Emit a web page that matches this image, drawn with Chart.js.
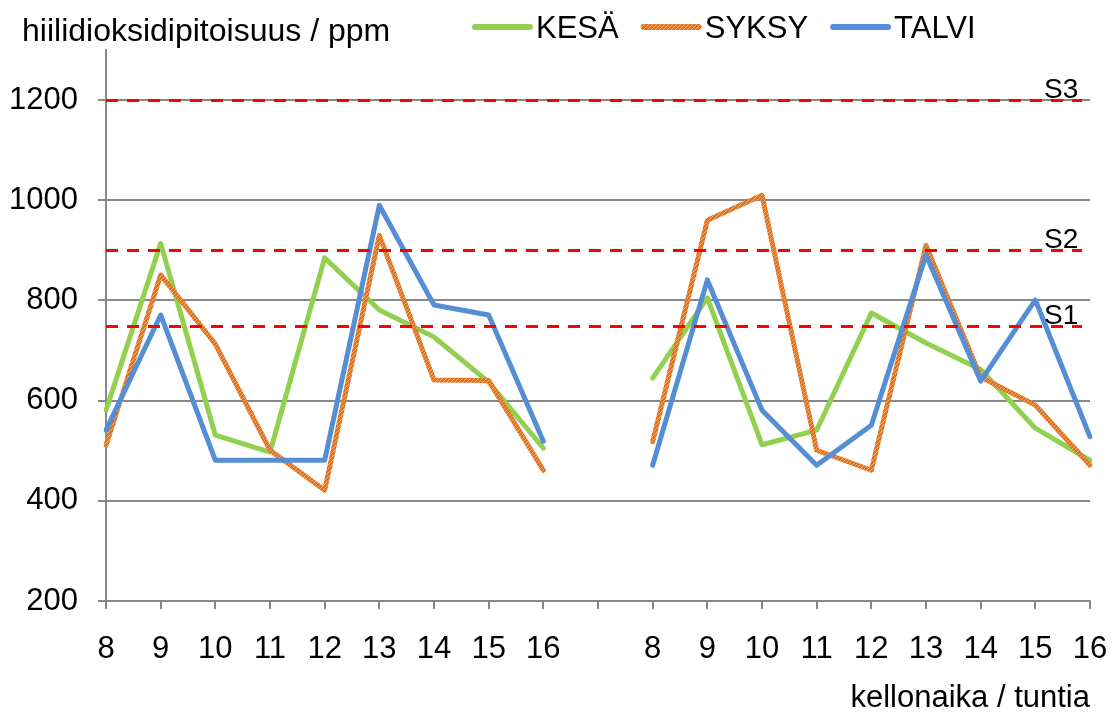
<!DOCTYPE html>
<html>
<head>
<meta charset="utf-8">
<script src="https://cdn.jsdelivr.net/npm/chart.js@4.4.1/dist/chart.umd.min.js"></script>
<style>
  html, body { margin: 0; padding: 0; background: #fff; }
</style>
</head>
<body>
<canvas id="myChart" width="1112" height="722"></canvas>
<script>
// hours of two measuring days, blank slot between them
var hours = ['8', '9', '10', '11', '12', '13', '14', '15', '16', '', '8', '9', '10', '11', '12', '13', '14', '15', '16'];

var kesa  = [581, 914, 531, 497, 885, 781, 727, 637, 505, null, 645, 805, 512, 541, 775, 715, 662, 545, 481];
var syksy = [511, 851, 713, 501, 421, 930, 641, 640, 461, null, 518, 960, 1010, 501, 461, 910, 647, 591, 471];
var talvi = [541, 771, 481, 481, 481, 990, 791, 771, 519, null, 471, 841, 581, 471, 551, 891, 639, 801, 528];

// limit values S1..S3
var limitNames  = ['S1', 'S2', 'S3'];
var limitValues = [750, 900, 1200];

var yTitle = 'hiilidioksidipitoisuus / ppm';
var xTitle = 'kellonaika / tuntia';

var FONT = "'Liberation Sans', Arial, sans-serif";

// speckled orange stroke like the original
function orangePattern() {
    var c = document.createElement('canvas');
    c.width = 4; c.height = 4;
    var g = c.getContext('2d');
    g.fillStyle = '#E5731C';
    g.fillRect(0, 0, 4, 4);
    g.fillStyle = '#F3A86A';
    g.fillRect(0, 0, 1, 1);
    g.fillRect(2, 2, 1, 1);
    g.fillRect(1, 3, 1, 1);
    g.fillRect(3, 1, 1, 1);
    return g.createPattern(c, 'repeat');
}

var overlay = {
    id: 'overlay',
    afterDatasetsDraw: function (chart) {
        var ctx = chart.ctx, area = chart.chartArea, y = chart.scales.y;
        ctx.save();
        ctx.strokeStyle = '#FF0000';
        ctx.lineWidth = 3;
        ctx.setLineDash([12, 9]);
        limitValues.forEach(function (v) {
            var py = Math.round(y.getPixelForValue(v)) + 0.5;
            ctx.beginPath();
            ctx.moveTo(area.left, py);
            ctx.lineTo(area.right - 8, py);
            ctx.stroke();
        });
        ctx.setLineDash([]);
        ctx.fillStyle = '#000';
        ctx.font = '28px ' + FONT;
        ctx.textAlign = 'left';
        ctx.textBaseline = 'alphabetic';
        limitValues.forEach(function (v, i) {
            ctx.fillText(limitNames[i], area.right - 46, y.getPixelForValue(v) - 2);
        });
        ctx.restore();
    },
    afterDraw: function (chart) {
        var ctx = chart.ctx;
        ctx.save();
        ctx.fillStyle = '#000';
        ctx.textBaseline = 'alphabetic';
        ctx.font = '32px ' + FONT;
        ctx.textAlign = 'left';
        ctx.fillText(yTitle, 22, 41);
        ctx.font = '31px ' + FONT;
        ctx.textAlign = 'right';
        ctx.fillText(xTitle, 1090, 707);

        // legend
        var x = 475;
        ctx.textAlign = 'left';
        ctx.textBaseline = 'alphabetic';
        chart.data.datasets.forEach(function (ds) {
            ctx.strokeStyle = ds.borderColor;
            ctx.lineWidth = 6;
            ctx.lineCap = 'round';
            ctx.beginPath();
            ctx.moveTo(x, 27);
            ctx.lineTo(x + 55, 27);
            ctx.stroke();
            ctx.fillText(ds.label, x + 61, 38);
            x += 61 + ctx.measureText(ds.label).width + 25;
        });
        ctx.restore();
    }
};

var ctx = document.getElementById('myChart').getContext('2d');
var chart = new Chart(ctx, {
    type: 'line',
    data: {
        labels: hours,
        datasets: [{
            label: 'KESÄ',
            data: kesa,
            borderColor: '#92D050',
            order: 3
        }, {
            label: 'SYKSY',
            data: syksy,
            borderColor: orangePattern(),
            order: 2
        }, {
            label: 'TALVI',
            data: talvi,
            borderColor: '#558ED5',
            order: 1
        }]
    },
    options: {
        responsive: false,
        animation: false,
        spanGaps: false,
        elements: {
            line: { borderWidth: 5, tension: 0, borderJoinStyle: 'round', borderCapStyle: 'round', fill: false },
            point: { radius: 0, hoverRadius: 0 }
        },
        layout: { padding: { top: 50, right: 22, left: 0, bottom: 0 } },
        plugins: {
            legend: { display: false },
            tooltip: { enabled: false }
        },
        scales: {
            x: {
                offset: false,
                grid: { drawOnChartArea: false, tickLength: 8, color: '#888', lineWidth: 2 },
                border: { color: '#888', width: 2 },
                ticks: { color: '#000', font: { family: FONT, size: 31 }, padding: 22, maxRotation: 0, autoSkip: false },
                afterFit: function (s) {
                    s.height = 121;
                    s.paddingLeft = 0;
                    s.paddingRight = 0;
                }
            },
            y: {
                min: 200,
                max: 1300,
                grid: { color: '#888', lineWidth: 2, tickLength: 8 },
                border: { color: '#888', width: 2 },
                ticks: {
                    stepSize: 200, color: '#000', font: { family: FONT, size: 31 }, padding: 20,
                    callback: function (v) { return String(v); }
                },
                afterBuildTicks: function (s) {
                    s.ticks = s.ticks.filter(function (t) { return t.value <= 1200; });
                },
                afterFit: function (s) { s.width = 106; }
            }
        }
    },
    plugins: [overlay]
});
</script>
</body>
</html>
